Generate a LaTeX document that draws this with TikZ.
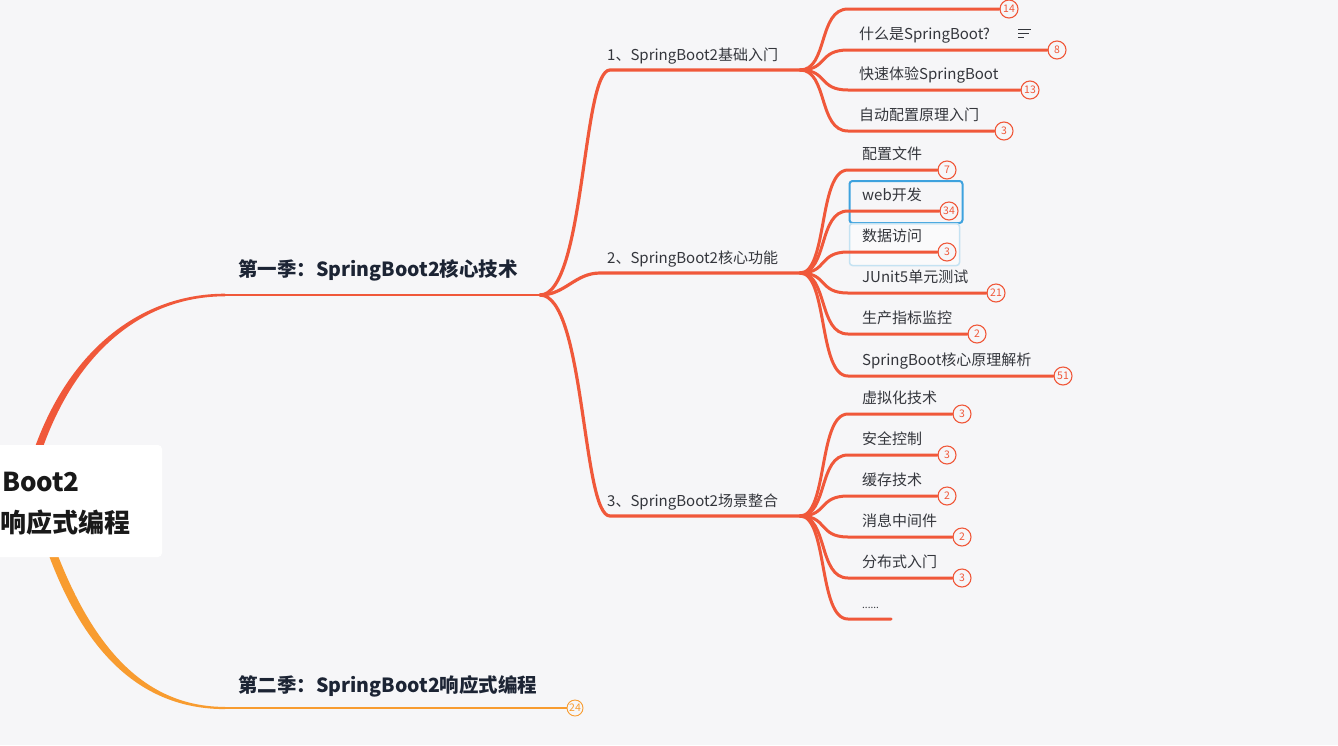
\documentclass[tikz,border=0pt]{standalone}
\usepackage{fontspec}
\setmainfont{Noto Sans CJK SC}
\usetikzlibrary{positioning, calc}

\definecolor{bgcol}{RGB}{246,246,248}
\definecolor{linered}{RGB}{240,88,58}
\definecolor{lineorange}{RGB}{248,156,48}
\definecolor{leafgray}{RGB}{52,54,60}
\definecolor{topicnavy}{RGB}{28,36,52}
\definecolor{selblue}{RGB}{62,162,222}
\definecolor{hoverblue}{RGB}{196,226,242}

\begin{document}
\begin{tikzpicture}[x=1pt, y=-1pt]
  \newcommand\leafgap{11}
  \newcommand\forkdx{48}

  \tikzset{leaftxt/.style={anchor=base west, inner sep=0pt, text=leafgray, font=\fontsize{15}{18}\selectfont}}
  \tikzset{subtxt/.style={leaftxt}}
  \tikzset{topictxt/.style={anchor=base west, inner sep=0pt, text=topicnavy, font=\fontsize{19.5}{22}\selectfont\bfseries}}
  \tikzset{roottxt/.style={anchor=base east, inner sep=0pt, text=black!90, font=\fontsize{26}{30}\selectfont\bfseries}}
  \tikzset{badge/.style={circle, draw=linered, line width=1.1, fill=bgcol, text=linered, minimum size=18, inner sep=0pt, font=\fontsize{10.5}{10.5}\selectfont}}
  \tikzset{orangebadge/.style={badge, draw=lineorange, text=lineorange, minimum size=16, line width=0.9}}
  \tikzset{leafedge/.style={draw=linered, line width=3, line cap=round}}
  \tikzset{subedge/.style={leafedge, line width=3.2}}
  \tikzset{selbox/.style={draw=selblue, line width=2, rounded corners=3, minimum width=113, minimum height=42}}
  \tikzset{hoverbox/.style={selbox, draw=hoverblue, fill=white, fill opacity=0.5, line width=1.5, minimum width=110}}

  \useasboundingbox[fill=bgcol] (0,0) rectangle (1338,745);

  % selection frames
  \node[selbox] (sel) at (906,202) {};
  \node[hoverbox] (hov) at (904.5,244.5) {};

  % root and seasons
  \coordinate (rootA) at (39,447);
  \coordinate (rootB) at (54,557);
  \coordinate (t1a) at (225,295);
  \coordinate (tf) at (540,295);
  \coordinate (t2a) at (225,708);
  \fill[linered] ($(rootA)+(-4,0)$) .. controls +(37,-102) and +(-80,0) .. ($(t1a)+(0,-1.3)$)
    -- ($(t1a)+(0,1.3)$) .. controls +(-78,0) and +(36,-100) .. ($(rootA)+(4,0)$) -- cycle;
  \draw[linered, line width=2.6] (t1a) -- (tf);
  \node[orangebadge] (b24) at (575,708) {24};
  \fill[lineorange] ($(rootB)+(-4.5,0)$) .. controls +(34,90) and +(-88,0) .. ($(t2a)+(0,1.1)$)
    -- ($(t2a)+(0,-1.1)$) .. controls +(-83,0) and +(34,86) .. ($(rootB)+(4.5,0)$) -- cycle;
  \draw[lineorange, line width=2] (t2a) -- (b24);

  \node[fill=white, rounded corners=4, minimum width=180, minimum height=112, inner sep=0pt] (root) at (72,501) {};
  \node[roottxt] (root-1) at (80,491) {Boot2};
  \node[roottxt] (root-2) at (131,532) {响应式编程};

  \node[topictxt] (t1) at (238,276) {第一季：SpringBoot2核心技术};
  \node[topictxt] (t2) at (238,692) {第二季：SpringBoot2响应式编程};

  % chapters
  \foreach \s/\ly/\lx/\ca/\cb/\txt in {1/70/610/45/-28/{1、SpringBoot2基础入门}, 2/273/600/25/-25/{2、SpringBoot2核心功能}, 3/516/610/45/-28/{3、SpringBoot2场景整合}}{
    \coordinate (f\s) at (800,\ly);
    \node[subtxt] (s\s) at (607,\ly-10) {\txt};
    \draw[subedge] (tf) .. controls +(\ca,0) and +(\cb,0) .. (\lx,\ly) -- (f\s);
  }

  % leaves
  \foreach \ly/\bx/\txt/\cnt [count=\i] in {9/1009/{}/14, 50/1057/{什么是SpringBoot?}/8, 90/1030/{快速体验SpringBoot}/13, 131/1004/{自动配置原理入门}/3}{
    \node[leaftxt] (l1-\i) at (859,\ly-\leafgap) {\txt};
    \node[badge] (b1-\i) at (\bx,\ly) {\cnt};
    \draw[leafedge] (f1) .. controls +(28,0) and +(-30,0) .. ($(f1 |- b1-\i)+(\forkdx,0)$) -- (b1-\i);
  }
  \draw[leafgray, line width=1.3] (1018,29.3) -- (1031,29.3) (1018,33.5) -- (1029,33.5) (1018,37.7) -- (1024,37.7);

  \foreach \ly/\bx/\txt/\cnt [count=\i] in {170/947/{配置文件}/7, 211/949/{web开发}/34, 252/947/{数据访问}/3, 293/996/{JUnit5单元测试}/21, 334/977/{生产指标监控}/2, 376/1063/{SpringBoot核心原理解析}/51}{
    \node[leaftxt] (l2-\i) at (862,\ly-\leafgap) {\txt};
    \node[badge] (b2-\i) at (\bx,\ly) {\cnt};
    \draw[leafedge] (f2) .. controls +(28,0) and +(-30,0) .. ($(f2 |- b2-\i)+(\forkdx,0)$) -- (b2-\i);
  }

  \foreach \ly/\bx/\txt/\cnt [count=\i] in {414/962/{虚拟化技术}/3, 455/947/{安全控制}/3, 496/947/{缓存技术}/2, 537/962/{消息中间件}/2, 578/962/{分布式入门}/3}{
    \node[leaftxt] (l3-\i) at (862,\ly-\leafgap) {\txt};
    \node[badge] (b3-\i) at (\bx,\ly) {\cnt};
    \draw[leafedge] (f3) .. controls +(28,0) and +(-30,0) .. ($(f3 |- b3-\i)+(\forkdx,0)$) -- (b3-\i);
  }
  \node[leaftxt, font=\fontsize{10}{12}\selectfont] (l3-6) at (862,608) {......};
  \coordinate (e3-6) at (891,619);
  \draw[leafedge] (f3) .. controls +(28,0) and +(-30,0) .. ($(f3 |- e3-6)+(\forkdx,0)$) -- (e3-6);
\end{tikzpicture}
\end{document}
